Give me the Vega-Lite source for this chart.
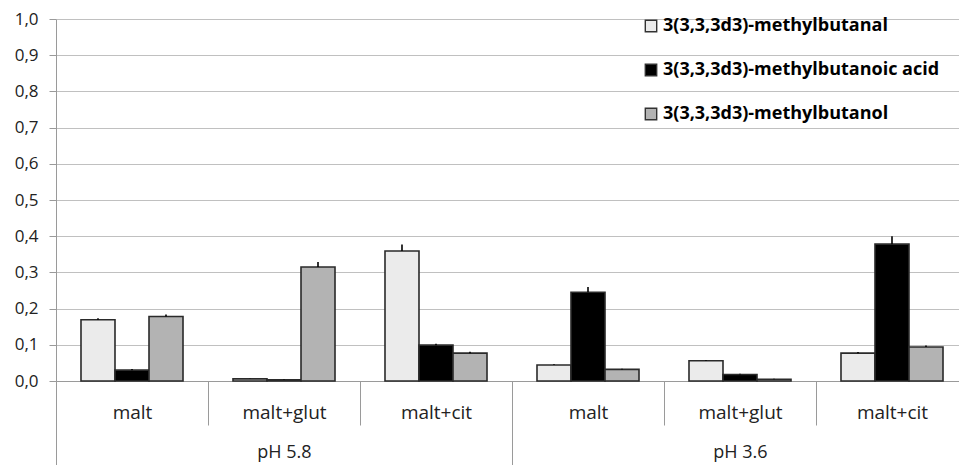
{
  "$schema": "https://vega.github.io/schema/vega-lite/v6.json",
  "width": 912,
  "height": 362,
  "autosize": "none",
  "padding": {"left": 56, "top": 19, "right": 0, "bottom": 84},
  "background": "white",
  "config": {
    "view": {"stroke": null},
    "font": "Open Sans",
    "axis": {"labelFont": "Open Sans", "labelFontSize": 16, "labelColor": "#222", "domainColor": "#9a9a9a", "tickColor": "#9a9a9a", "gridColor": "#c0c0c0", "labelOverlap": false}
  },
  "data": {
    "values": [
      {"cat": "pH 5.8|malt", "group": "pH 5.8", "series": "3(3,3,3d3)-methylbutanal", "value": 0.169, "err": 0.004},
      {"cat": "pH 5.8|malt", "group": "pH 5.8", "series": "3(3,3,3d3)-methylbutanoic acid", "value": 0.030, "err": 0.003},
      {"cat": "pH 5.8|malt", "group": "pH 5.8", "series": "3(3,3,3d3)-methylbutanol", "value": 0.178, "err": 0.006},
      {"cat": "pH 5.8|malt+glut", "group": "pH 5.8", "series": "3(3,3,3d3)-methylbutanal", "value": 0.006, "err": 0.001},
      {"cat": "pH 5.8|malt+glut", "group": "pH 5.8", "series": "3(3,3,3d3)-methylbutanoic acid", "value": 0.003, "err": 0.001},
      {"cat": "pH 5.8|malt+glut", "group": "pH 5.8", "series": "3(3,3,3d3)-methylbutanol", "value": 0.315, "err": 0.014},
      {"cat": "pH 5.8|malt+cit", "group": "pH 5.8", "series": "3(3,3,3d3)-methylbutanal", "value": 0.359, "err": 0.018},
      {"cat": "pH 5.8|malt+cit", "group": "pH 5.8", "series": "3(3,3,3d3)-methylbutanoic acid", "value": 0.099, "err": 0.004},
      {"cat": "pH 5.8|malt+cit", "group": "pH 5.8", "series": "3(3,3,3d3)-methylbutanol", "value": 0.077, "err": 0.004},
      {"cat": "pH 3.6|malt", "group": "pH 3.6", "series": "3(3,3,3d3)-methylbutanal", "value": 0.044, "err": 0.002},
      {"cat": "pH 3.6|malt", "group": "pH 3.6", "series": "3(3,3,3d3)-methylbutanoic acid", "value": 0.245, "err": 0.015},
      {"cat": "pH 3.6|malt", "group": "pH 3.6", "series": "3(3,3,3d3)-methylbutanol", "value": 0.032, "err": 0.002},
      {"cat": "pH 3.6|malt+glut", "group": "pH 3.6", "series": "3(3,3,3d3)-methylbutanal", "value": 0.056, "err": 0.002},
      {"cat": "pH 3.6|malt+glut", "group": "pH 3.6", "series": "3(3,3,3d3)-methylbutanoic acid", "value": 0.018, "err": 0.002},
      {"cat": "pH 3.6|malt+glut", "group": "pH 3.6", "series": "3(3,3,3d3)-methylbutanol", "value": 0.005, "err": 0.001},
      {"cat": "pH 3.6|malt+cit", "group": "pH 3.6", "series": "3(3,3,3d3)-methylbutanal", "value": 0.077, "err": 0.003},
      {"cat": "pH 3.6|malt+cit", "group": "pH 3.6", "series": "3(3,3,3d3)-methylbutanoic acid", "value": 0.378, "err": 0.022},
      {"cat": "pH 3.6|malt+cit", "group": "pH 3.6", "series": "3(3,3,3d3)-methylbutanol", "value": 0.094, "err": 0.004}
    ]
  },
  "layer": [
    {
      "encoding": {
        "x": {
          "field": "cat", "type": "nominal", "sort": null, "title": null,
          "scale": {"paddingInner": 0, "paddingOuter": 0},
          "axis": {"labelExpr": "split(datum.label, '|')[1]", "labelAngle": 0, "tickBand": "extent", "tickSize": 44, "labelPadding": -22, "domain": true, "labelBaseline": "top", "labelFontSize": 19}
        },
        "xOffset": {
          "field": "series", "type": "nominal", "sort": null,
          "scale": {"paddingInner": 0, "paddingOuter": 0.735}
        },
        "y": {
          "field": "value", "type": "quantitative", "title": null,
          "scale": {"domain": [0, 1], "nice": false},
          "axis": {"values": [0, 0.1, 0.2, 0.3, 0.4, 0.5, 0.6, 0.7, 0.8, 0.9, 1.0], "labelExpr": "replace(format(datum.value, '.1f'), '.', ',')", "tickSize": 7, "labelPadding": 11, "grid": true, "domain": true, "labelFontSize": 17}
        }
      },
      "layer": [
        {
          "mark": {"type": "bar", "stroke": "#2a2a2a", "strokeWidth": 1.6},
          "encoding": {
            "fill": {
              "field": "series", "type": "nominal", "sort": null, "title": null,
              "scale": {"range": ["#ebebeb", "#000000", "#b3b3b3"]},
              "legend": {
                "orient": "none", "legendX": 586, "legendY": -2,
                "labelFont": "Open Sans", "labelFontSize": 18, "labelFontWeight": "bold", "labelColor": "#000",
                "symbolType": "square", "symbolSize": 130, "symbolStrokeColor": "#333", "symbolStrokeWidth": 1.4,
                "rowPadding": 26, "labelOffset": 3, "labelLimit": 400
              }
            }
          }
        },
        {
          "mark": {"type": "rule", "color": "#000", "strokeWidth": 1.6},
          "encoding": {
            "y2": {"field": "top"}
          },
          "transform": [{"calculate": "datum.value + datum.err", "as": "top"}]
        }
      ]
    },
    {
      "mark": {"type": "tick", "opacity": 0},
      "encoding": {
        "x": {
          "field": "group", "type": "nominal", "sort": ["pH 5.8", "pH 3.6"], "title": null,
          "scale": {"paddingInner": 0, "paddingOuter": 0},
          "axis": {"orient": "bottom", "labelAngle": 0, "tickBand": "extent", "tickSize": 84, "labelPadding": -22, "domain": false, "labelBaseline": "top", "labelFontSize": 18}
        }
      }
    }
  ],
  "resolve": {"scale": {"x": "independent"}, "axis": {"x": "independent"}}
}
